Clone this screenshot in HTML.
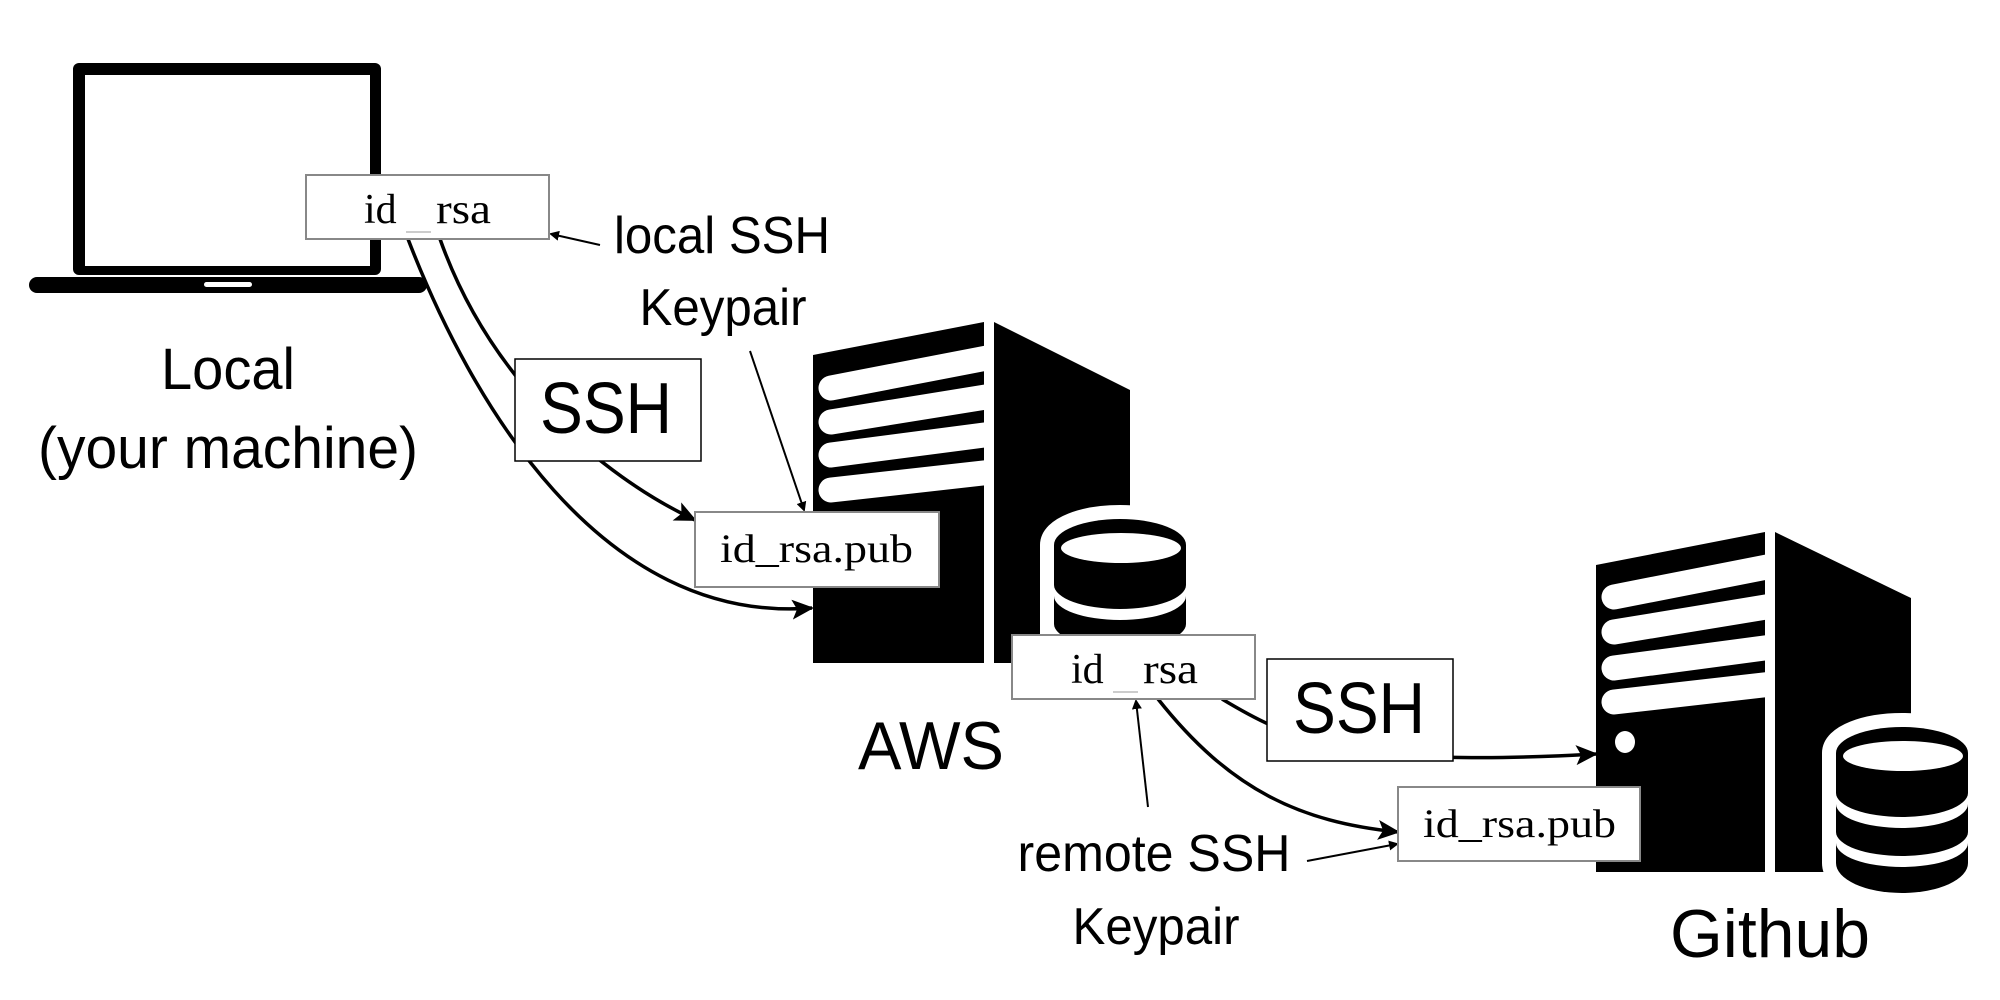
<!DOCTYPE html>
<html><head><meta charset="utf-8"><style>
html,body{margin:0;padding:0;background:#fff;}
svg{display:block;}
.sans{font-family:"Liberation Sans","DejaVu Sans",sans-serif;}
.ser{font-family:"Liberation Serif",serif;}
</style></head><body>
<svg width="2000" height="1000" viewBox="0 0 2000 1000" xmlns="http://www.w3.org/2000/svg">
<defs>
<marker id="ah" markerWidth="10" markerHeight="10" refX="8" refY="5" orient="auto" markerUnits="userSpaceOnUse" viewBox="0 0 10 10"><path d="M0,0 L10,5 L0,10 Z" fill="#000"/></marker>
<marker id="ahb" markerWidth="22" markerHeight="20" refX="20" refY="10" orient="auto" markerUnits="userSpaceOnUse" viewBox="0 0 22 20"><path d="M0,0 L22,10 L0,20 L5,10 Z" fill="#000"/></marker>
<g id="db">
<path d="M-66,0 A66,26 0 0 1 66,0 L66,110 A66,30 0 0 1 -66,110 Z" fill="#fff" stroke="#fff" stroke-width="28" stroke-linejoin="round"/>
<path d="M-66,0 A66,26 0 0 1 66,0 L66,110 A66,30 0 0 1 -66,110 Z" fill="#000"/>
<ellipse cx="1" cy="3" rx="60" ry="15" fill="#fff"/>
<path d="M-66,40 A66,24 0 0 0 66,40 L66,51 A66,24 0 0 1 -66,51 Z" fill="#fff"/>
<path d="M-66,79 A66,24 0 0 0 66,79 L66,90 A66,24 0 0 1 -66,90 Z" fill="#fff"/>
</g>
</defs>

<!-- Laptop -->
<rect x="73" y="63" width="308" height="212" rx="6" fill="#000"/>
<rect x="85" y="75" width="285" height="191" fill="#fff"/>
<rect x="29" y="277" width="398" height="16" rx="8" fill="#000"/>
<rect x="204" y="282" width="48" height="5" rx="2.5" fill="#fff"/>
<text class="sans" x="228" y="389" font-size="58" text-anchor="middle" textLength="134" lengthAdjust="spacingAndGlyphs">Local</text>
<text class="sans" x="228" y="468" font-size="58" text-anchor="middle" textLength="380" lengthAdjust="spacingAndGlyphs">(your machine)</text>

<!-- AWS server -->
<polygon points="813,355 984,322 984,663 813,663" fill="#000"/>
<g stroke="#fff" stroke-width="25" stroke-linecap="round">
<line x1="831" y1="388" x2="992" y2="357"/>
<line x1="831" y1="422" x2="992" y2="396"/>
<line x1="831" y1="455" x2="992" y2="434"/>
<line x1="831" y1="490" x2="992" y2="472"/>
</g>
<rect x="984" y="300" width="10" height="370" fill="#fff"/>
<polygon points="994,322 1130,390 1130,663 994,663" fill="#000"/>
<use href="#db" transform="translate(1120,545)"/>
<text class="sans" x="931" y="769" font-size="68" text-anchor="middle" textLength="146" lengthAdjust="spacingAndGlyphs">AWS</text>

<!-- Github server -->
<polygon points="1596,565 1765,532 1765,872 1596,872" fill="#000"/>
<g stroke="#fff" stroke-width="25" stroke-linecap="round">
<line x1="1614" y1="597" x2="1772" y2="566"/>
<line x1="1614" y1="632" x2="1772" y2="606"/>
<line x1="1614" y1="668" x2="1772" y2="647"/>
<line x1="1614" y1="702" x2="1772" y2="684"/>
</g>
<rect x="1765" y="520" width="10" height="360" fill="#fff"/>
<polygon points="1775,532 1911,598 1911,872 1775,872" fill="#000"/>
<ellipse cx="1625" cy="742" rx="10" ry="11" fill="#fff"/>
<use href="#db" transform="translate(1902,753)"/>
<text class="sans" x="1770" y="957" font-size="68" text-anchor="middle" textLength="200" lengthAdjust="spacingAndGlyphs">Github</text>

<!-- curves -->
<g fill="none" stroke="#000" stroke-width="3.5">
<path d="M408,239 C470,400 600,625 812,608" marker-end="url(#ahb)"/>
<path d="M440,239 C490,380 600,475 695,520" marker-end="url(#ahb)"/>
<path d="M1222,699 C1290,740 1350,768 1596,754" marker-end="url(#ahb)"/>
<path d="M1158,699 C1230,790 1300,822 1398,832" marker-end="url(#ahb)"/>
</g>
<g fill="none" stroke="#000" stroke-width="2">
<line x1="600" y1="245" x2="551" y2="234" marker-end="url(#ah)"/>
<line x1="750" y1="351" x2="804" y2="510" marker-end="url(#ah)"/>
<line x1="1148" y1="807" x2="1136" y2="701" marker-end="url(#ah)"/>
<line x1="1307" y1="861" x2="1397" y2="844" marker-end="url(#ah)"/>
</g>

<!-- boxes -->
<rect x="306" y="175" width="243" height="64" fill="#fff" stroke="#888" stroke-width="2"/>
<text class="ser" x="364" y="223" font-size="42">id</text>
<line x1="406" y1="232" x2="431" y2="232" stroke="#bbb" stroke-width="1.5"/>
<text class="ser" x="436" y="223" font-size="42" textLength="55" lengthAdjust="spacingAndGlyphs">rsa</text>

<rect x="515" y="359" width="186" height="102" fill="#fff" stroke="#000" stroke-width="1.5"/>
<text class="sans" x="606" y="433" font-size="72" text-anchor="middle" textLength="132" lengthAdjust="spacingAndGlyphs">SSH</text>

<rect x="695" y="512" width="244" height="75" fill="#fff" stroke="#888" stroke-width="2"/>
<text class="ser" x="720" y="562" font-size="40" textLength="193" lengthAdjust="spacingAndGlyphs">id_rsa.pub</text>

<rect x="1012" y="635" width="243" height="64" fill="#fff" stroke="#888" stroke-width="2"/>
<text class="ser" x="1071" y="683" font-size="42">id</text>
<line x1="1113" y1="692" x2="1138" y2="692" stroke="#bbb" stroke-width="1.5"/>
<text class="ser" x="1143" y="683" font-size="42" textLength="55" lengthAdjust="spacingAndGlyphs">rsa</text>

<rect x="1267" y="659" width="186" height="102" fill="#fff" stroke="#000" stroke-width="1.5"/>
<text class="sans" x="1359" y="733" font-size="72" text-anchor="middle" textLength="132" lengthAdjust="spacingAndGlyphs">SSH</text>

<rect x="1398" y="787" width="242" height="74" fill="#fff" stroke="#888" stroke-width="2"/>
<text class="ser" x="1423" y="837" font-size="40" textLength="193" lengthAdjust="spacingAndGlyphs">id_rsa.pub</text>

<!-- labels -->
<text class="sans" x="722" y="253" font-size="52" text-anchor="middle" textLength="216" lengthAdjust="spacingAndGlyphs">local SSH</text>
<text class="sans" x="723" y="325" font-size="52" text-anchor="middle" textLength="167" lengthAdjust="spacingAndGlyphs">Keypair</text>
<text class="sans" x="1154" y="871" font-size="52" text-anchor="middle" textLength="273" lengthAdjust="spacingAndGlyphs">remote SSH</text>
<text class="sans" x="1156" y="944" font-size="52" text-anchor="middle" textLength="167" lengthAdjust="spacingAndGlyphs">Keypair</text>
</svg>
</body></html>
